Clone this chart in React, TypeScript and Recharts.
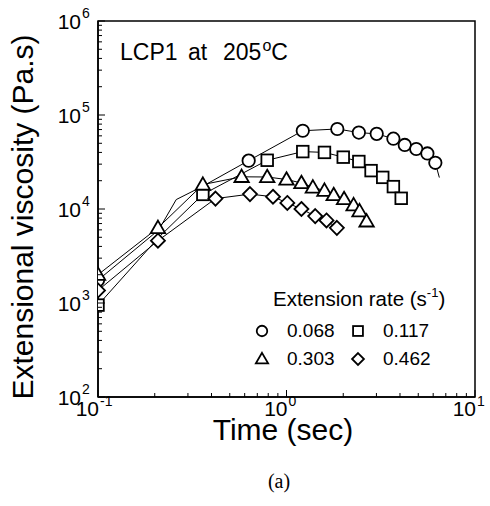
import React from 'react';
import { LineChart, Line, XAxis, YAxis, ReferenceArea, Customized } from 'recharts';

// ---- data (time in s, extensional viscosity in Pa.s) ----
const rates = ['0.068', '0.117', '0.303', '0.462'];

const t068 = [0.1, 0.21, 0.26, 0.36, 0.63, 1.22, 1.86, 2.42, 3.01, 3.69, 4.24, 4.88, 5.59, 6.16, 6.47];
const v068 = [1750, 6000, 12600, 17500, 32700, 68000, 71000, 65000, 63000, 56000, 48000, 43500, 39000, 31000, 21600];
const lineOnly068 = [1, 2, 3, 14];

const t117 = [0.1, 0.21, 0.36, 0.79, 1.22, 1.59, 2.0, 2.42, 2.81, 3.24, 3.69, 4.06];
const v117 = [950, 5000, 14300, 33000, 40800, 40000, 35600, 32000, 25600, 21700, 17300, 13000];
const lineOnly117 = [1];

const t303 = [0.1, 0.208, 0.36, 0.578, 0.79, 1.0, 1.2, 1.38, 1.59, 1.78, 2.02, 2.27, 2.44, 2.66];
const v303 = [2000, 6300, 18200, 22000, 21900, 20600, 18900, 17000, 15700, 14100, 12800, 11000, 9500, 7400];
const lineOnly303: number[] = [];

const t462 = [0.1, 0.208, 0.42, 0.64, 0.848, 1.01, 1.2, 1.42, 1.63, 1.85];
const v462 = [1360, 4600, 12900, 14400, 13500, 11600, 10000, 8400, 7550, 6300];
const lineOnly462: number[] = [];

const xTicks = [0.1, 0.2, 0.3, 0.4, 0.5, 0.6, 0.7, 0.8, 0.9, 1, 2, 3, 4, 5, 6, 7, 8, 9, 10];
const yTicks = [2, 3, 4, 5].flatMap((e) => [1, 2, 3, 4, 5, 6, 7, 8, 9].map((m) => m * Math.pow(10, e))).concat([1e6]);

const d068 = t068.map((t, i) => ({ t, v: v068[i] }));
const d117 = t117.map((t, i) => ({ t, v: v117[i] }));
const d303 = t303.map((t, i) => ({ t, v: v303[i] }));
const d462 = t462.map((t, i) => ({ t, v: v462[i] }));

const SANS = 'Liberation Sans, Arial, Helvetica, sans-serif';

type Shape = 'circle' | 'square' | 'triangle' | 'diamond';

function Marker({ shape, cx, cy, s = 1 }: { shape: Shape; cx: number; cy: number; s?: number }) {
  const common = { fill: '#fff', stroke: '#000', strokeWidth: 1.8 };
  if (shape === 'circle') return <circle cx={cx} cy={cy} r={6.2 * s} {...common} />;
  if (shape === 'square') return <rect x={cx - 5.8 * s} y={cy - 5.8 * s} width={11.6 * s} height={11.6 * s} {...common} />;
  if (shape === 'triangle') {
    const pts = `${cx},${cy - 7.2 * s} ${cx + 7.2 * s},${cy + 5.2 * s} ${cx - 7.2 * s},${cy + 5.2 * s}`;
    return <polygon points={pts} {...common} strokeLinejoin="miter" />;
  }
  const pts = `${cx},${cy - 7 * s} ${cx + 7 * s},${cy} ${cx},${cy + 7 * s} ${cx - 7 * s},${cy}`;
  return <polygon points={pts} {...common} />;
}

const makeDot = (shape: Shape, hidden: number[]) => (props: any) => {
  const { cx, cy, index } = props;
  const key = `${shape}-${index}`;
  if (cx == null || cy == null || hidden.includes(index)) return <g key={key} />;
  return (
    <g key={key}>
      <Marker shape={shape} cx={cx} cy={cy} />
    </g>
  );
};

const isMajor = (v: number) => Math.abs(Math.log10(v) - Math.round(Math.log10(v))) < 1e-9;

const XTick = (props: any) => {
  const { x, y, payload } = props;
  const v = payload.value;
  const major = isMajor(v);
  const e = Math.round(Math.log10(v));
  return (
    <g>
      <line x1={x} x2={x} y1={y} y2={y - (major ? 7 : 4)} stroke="#000" strokeWidth={1} />
      {major && (
        <g fontFamily={SANS} fill="#000">
          <text x={x + 1} y={y + 19} fontSize={21} textAnchor="end">10</text>
          <text x={x + 2} y={y + 9} fontSize={14} textAnchor="start">{String(e)}</text>
        </g>
      )}
    </g>
  );
};

const YTick = (props: any) => {
  const { x, y, payload } = props;
  const v = payload.value;
  const major = isMajor(v);
  const e = Math.round(Math.log10(v));
  return (
    <g>
      <line x1={x} x2={x + (major ? 7 : 4)} y1={y} y2={y} stroke="#000" strokeWidth={1} />
      {major && (
        <g fontFamily={SANS} fill="#000">
          <text x={x - 17} y={y + 8} fontSize={21} textAnchor="end">10</text>
          <text x={x - 16} y={y - 3} fontSize={14} textAnchor="start">{String(e)}</text>
        </g>
      )}
    </g>
  );
};

const legendShapes: Shape[] = ['circle', 'square', 'triangle', 'diamond'];

const Annotations = () => (
  <g fontFamily={SANS} fill="#000">
    <text y={60} fontSize={23}>
      <tspan x={120}>LCP1</tspan>
      <tspan x={188}>at</tspan>
      <tspan x={223}>205</tspan>
      <tspan fontSize={16} dx={1} dy={-9}>o</tspan>
      <tspan dy={9}>C</tspan>
    </text>

    <text x={273} y={306} fontSize={20.5}>
      Extension rate (s<tspan fontSize={13} dy={-9}>-1</tspan><tspan dy={9}>)</tspan>
    </text>
    {rates.map((r, i) => {
      const col = i % 2;
      const row = Math.floor(i / 2);
      const mx = col === 0 ? 262 : 358;
      const my = row === 0 ? 331 : 359;
      return (
        <g key={r}>
          <Marker shape={legendShapes[i]} cx={mx} cy={my} s={0.85} />
          <text x={mx + 25} y={my + 6} fontSize={19}>{r}</text>
        </g>
      );
    })}

    <text x={283} y={440} fontSize={30} textAnchor="middle">Time (sec)</text>
    <text transform="translate(33,217) rotate(-90)" x={0} y={0} fontSize={30} textAnchor="middle">
      Extensional viscosity (Pa.s)
    </text>
    <text x={279} y={488} fontSize={20} textAnchor="middle" fontFamily="Liberation Serif, Times New Roman, serif">(a)</text>
  </g>
);

export default function App() {
  return (
    <div style={{ position: 'absolute', left: 0, top: 0, background: '#fff' }}>
      <LineChart width={490} height={506} margin={{ top: 21, right: 15, left: 58, bottom: 79 }}>
        <XAxis
          type="number"
          dataKey="t"
          scale="log"
          domain={[0.1, 10]}
          allowDataOverflow
          ticks={xTicks}
          interval={0}
          tickLine={false}
          tickSize={0}
          tickMargin={0}
          axisLine={{ stroke: '#000', strokeWidth: 1.5 }}
          height={30}
          tick={XTick}
        />
        <YAxis
          type="number"
          dataKey="v"
          scale="log"
          domain={[100, 1e6]}
          allowDataOverflow
          ticks={yTicks}
          interval={0}
          tickLine={false}
          tickSize={0}
          tickMargin={0}
          axisLine={{ stroke: '#000', strokeWidth: 1.5 }}
          width={40}
          tick={YTick}
        />
        <ReferenceArea x1={0.1} x2={10} y1={100} y2={1e6} fill="none" stroke="#000" strokeWidth={1.5} />
        <Line data={d068} dataKey="v" type="linear" stroke="#000" strokeWidth={1} dot={makeDot('circle', lineOnly068)} isAnimationActive={false} />
        <Line data={d117} dataKey="v" type="linear" stroke="#000" strokeWidth={1} dot={makeDot('square', lineOnly117)} isAnimationActive={false} />
        <Line data={d462} dataKey="v" type="linear" stroke="#000" strokeWidth={1} dot={makeDot('diamond', lineOnly462)} isAnimationActive={false} />
        <Line data={d303} dataKey="v" type="linear" stroke="#000" strokeWidth={1} dot={makeDot('triangle', lineOnly303)} isAnimationActive={false} />
        <Customized component={Annotations} />
      </LineChart>
    </div>
  );
}
